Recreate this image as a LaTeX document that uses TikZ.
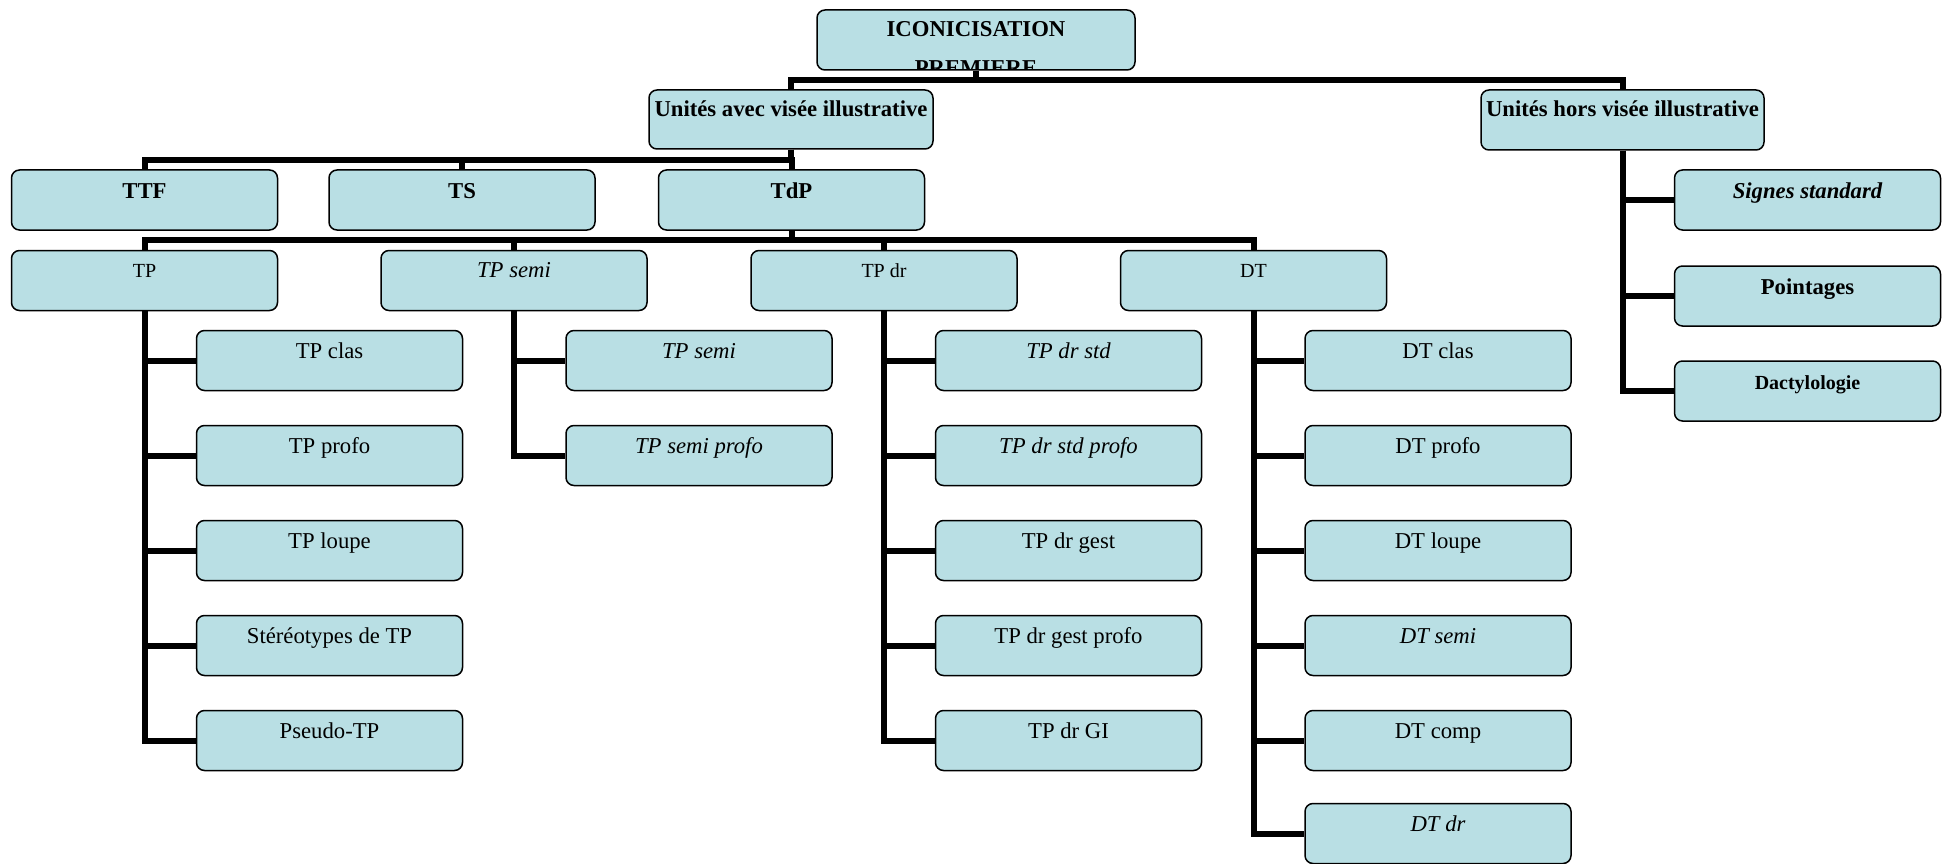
\documentclass[tikz,border=0pt]{standalone}
\usepackage{fontspec}
\setmainfont{Liberation Serif}
\usetikzlibrary{backgrounds}
\definecolor{boxblue}{RGB}{185,223,228}
\newcommand{\fbig}{\fontsize{22.7}{27}\selectfont}
\newcommand{\fsmall}{\fontsize{20}{24}\selectfont}
\tikzset{
  box/.style={draw=black, line width=1.5pt, rounded corners=8pt, fill=boxblue,
    inner sep=0pt, minimum width=266pt, text height=28pt, text depth=32pt, font=\fbig},
  smallbox/.style={box, font=\fsmall, text height=27pt, text depth=33pt},
  link/.style={draw=black, line width=6pt, line join=miter},
}
\begin{document}
\begin{tikzpicture}[x=1pt,y=-1pt]
\useasboundingbox (0,0) rectangle (1952,864);
% level 0
\node[box, minimum width=318pt, font=\fbig\bfseries, text height=27pt, text depth=33pt] (root) at (976,40) {ICONICISATION};
\begin{scope}
  \clip[rounded corners=8pt] ([xshift=1pt,yshift=-1pt]root.north west) rectangle ([xshift=-1pt,yshift=1pt]root.south east);
  \node[anchor=base, inner sep=0pt, font=\fbig\bfseries] (root2) at (976,76) {PREMIERE};
\end{scope}
% level 1
\node[box, minimum width=284pt, font=\fbig\bfseries, text height=27pt, text depth=32pt] (uav) at (791,119.5) {Unités avec visée illustrative};
\node[box, minimum width=283pt, font=\fbig\bfseries, text height=27pt, text depth=33pt] (uhv) at (1622.5,120) {Unités hors visée illustrative};
% level 2
\node[box, font=\fbig\bfseries] (ttf) at (144.5,200) {TTF};
\node[box, font=\fbig\bfseries] (ts) at (462,200) {TS};
\node[box, font=\fbig\bfseries] (tdp) at (791.5,200) {TdP};
% right column
\node[box, font=\fbig\bfseries\itshape] (r1) at (1807.5,200) {Signes standard};
\node[box, font=\fbig\bfseries] (r2) at (1807.5,296) {Pointages};
\node[box, font=\fsmall\bfseries] (r3) at (1807.5,391) {Dactylologie};
% level 3
\node[smallbox] (tp) at (144.5,280.5) {TP};
\node[smallbox, font=\fbig\itshape] (tps) at (514,280.5) {TP semi};
\node[smallbox] (tpd) at (884,280.5) {TP dr};
\node[smallbox] (dt) at (1253.5,280.5) {DT};
% TP children
\node[box] (a1) at (329.5,360.5) {TP clas};
\node[box] (a2) at (329.5,455.5) {TP profo};
\node[box] (a3) at (329.5,550.5) {TP loupe};
\node[box] (a4) at (329.5,645.5) {Stéréotypes de TP};
\node[box] (a5) at (329.5,740.5) {Pseudo-TP};
% TP semi children
\node[box, font=\fbig\itshape] (b1) at (699,360.5) {TP semi};
\node[box, font=\fbig\itshape] (b2) at (699,455.5) {TP semi profo};
% TP dr children
\node[box, font=\fbig\itshape] (c1) at (1068.5,360.5) {TP dr std};
\node[box, font=\fbig\itshape] (c2) at (1068.5,455.5) {TP dr std profo};
\node[box] (c3) at (1068.5,550.5) {TP dr gest};
\node[box] (c4) at (1068.5,645.5) {TP dr gest profo};
\node[box] (c5) at (1068.5,740.5) {TP dr GI};
% DT children
\node[box] (d1) at (1438,360.5) {DT clas};
\node[box] (d2) at (1438,455.5) {DT profo};
\node[box] (d3) at (1438,550.5) {DT loupe};
\node[box, font=\fbig\itshape] (d4) at (1438,645.5) {DT semi};
\node[box] (d5) at (1438,740.5) {DT comp};
\node[box, font=\fbig\itshape] (d6) at (1438,833.5) {DT dr};
% connectors
\begin{scope}[on background layer]
  \fill[white] (0,0) rectangle (1952,864);
  \coordinate (bar1) at (0,80);
  \coordinate (bar2) at (0,160);
  \coordinate (bar3) at (0,240);
  \foreach \c in {uav,uhv} \draw[link] (root.south) -- (root.south |- bar1) -| (\c.north);
  \foreach \c in {ttf,ts,tdp} \draw[link] (uav.south) -- (uav.south |- bar2) -| (\c.north);
  \foreach \c in {tp,tps,tpd,dt} \draw[link] (tdp.south) -- (tdp.south |- bar3) -| (\c.north);
  \foreach \c in {a1,a2,a3,a4,a5} \draw[link] (tp.south) |- (\c.west);
  \foreach \c in {b1,b2} \draw[link] (tps.south) |- (\c.west);
  \foreach \c in {c1,c2,c3,c4,c5} \draw[link] (tpd.south) |- (\c.west);
  \foreach \c in {d1,d2,d3,d4,d5,d6} \draw[link] (dt.south) |- (\c.west);
  \foreach \c in {r1,r2,r3} \draw[link] (uhv.south) |- (\c.west);
\end{scope}
\end{tikzpicture}
\end{document}
